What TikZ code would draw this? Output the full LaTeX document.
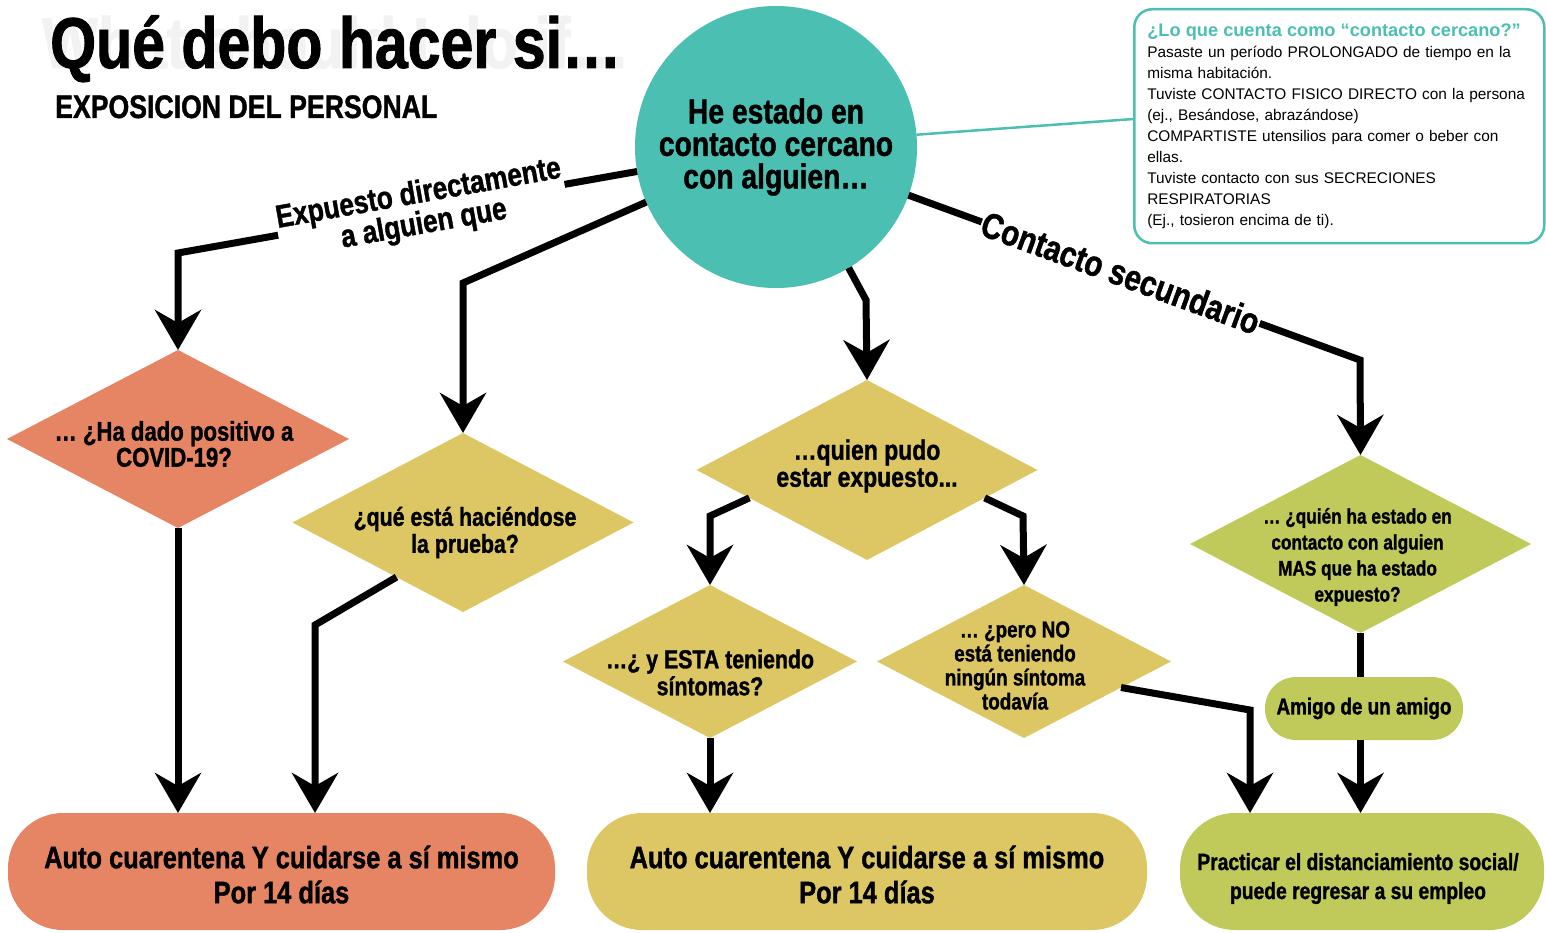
\documentclass[tikz,border=0pt]{standalone}
\usepackage{fontspec}
\newfontfamily\cnd[FakeStretch=0.82, FakeBold=1.2]{Liberation Sans}
\newfontfamily\hel{Liberation Sans}
\usetikzlibrary{shapes.geometric,arrows.meta,calc}
\definecolor{tealc}{HTML}{4BBFB1}
\definecolor{orangec}{HTML}{E68564}
\definecolor{yellowc}{HTML}{DDC765}
\definecolor{greenc}{HTML}{BFCA5A}
\tikzset{
  conn/.style={line width=7pt, draw=black},
  arr/.style={conn, -{Stealth[length=40pt,width=46pt,inset=13pt]}},
  dia/.style={diamond, inner sep=0pt, outer sep=0pt},
  dtext/.style={font=\cnd\bfseries\fontsize{26}{27}\selectfont, align=center, text=black, inner sep=0pt},
  pill/.style={rectangle, rounded corners=55pt, inner sep=0pt, outer sep=0pt, align=center},
  lbl/.style={font=\cnd\bfseries\fontsize{32}{27}\selectfont, align=center, fill=white, inner sep=1pt, sloped},
}
\begin{document}
\begin{tikzpicture}[x=1pt,y=-1pt]
\useasboundingbox (0,0) rectangle (1546,933);
\fill[white] (0,0) rectangle (1546,933);

% titles
\node[anchor=base west, inner sep=0pt, text=black!5, font=\cnd\bfseries\fontsize{72}{72}\selectfont] (bgtitle) at (42,68) {What should I do if…};
\node[anchor=base west, inner sep=0pt, font=\cnd\bfseries\fontsize{72}{72}\selectfont] (title) at (50,68) {Qué debo hacer si…};
\node[anchor=base west, inner sep=0pt, font=\cnd\bfseries\fontsize{32.5}{32}\selectfont] (sub) at (55,118) {EXPOSICION DEL PERSONAL};

% central circle
\node[circle, fill=tealc, minimum size=282pt, inner sep=0pt, outer sep=0pt, align=center,
  font=\cnd\bfseries\fontsize{34.5}{32.5}\selectfont] (circ) at (776,147) {He estado en\\contacto cercano\\con alguien…};

% info box
\node[anchor=north west, draw=tealc, line width=2.5pt, rounded corners=18pt, fill=white,
  minimum width=410pt, minimum height=234pt, text width=384pt, align=left, inner sep=0pt,
  font=\hel\fontsize{15.4}{20.9}\selectfont] (info) at (1133,8)
  {{\color{tealc}\bfseries\fontsize{18.2}{20.9}\selectfont ¿Lo que cuenta como “contacto cercano?”}\\
   Pasaste un período PROLONGADO de tiempo en la\\
   misma habitación.\\
   Tuviste CONTACTO FISICO DIRECTO con la persona\\
   (ej., Besándose, abrazándose)\\
   COMPARTISTE utensilios para comer o beber con\\
   ellas.\\
   Tuviste contacto con sus SECRECIONES\\
   RESPIRATORIAS\\
   (Ej., tosieron encima de ti).};
\draw[tealc, line width=2.5pt] (circ.5) -- (info.178);

% diamonds
\node[dia, fill=orangec, minimum width=342pt, minimum height=178pt] (d1) at (178,439) {};
\node[dia, fill=yellowc, minimum width=341pt, minimum height=179pt] (d2) at (463,522.5) {};
\node[dia, fill=yellowc, minimum width=341pt, minimum height=180pt] (d3) at (867,470) {};
\node[dia, fill=yellowc, minimum width=294pt, minimum height=153pt] (d4a) at (710,661.5) {};
\node[dia, fill=yellowc, minimum width=294pt, minimum height=153pt] (d4b) at (1024,661.5) {};
\node[dia, fill=greenc, minimum width=341pt, minimum height=178pt] (d5) at (1360.5,544) {};

\node[dtext, font=\cnd\bfseries\fontsize{27}{26}\selectfont] (d1t) at ($(d1)+(-4,5)$) {… ¿Ha dado positivo a\\COVID-19?};
\node[dtext] (d2t) at ($(d2)+(2,10)$) {¿qué está haciéndose\\la prueba?};
\node[dtext, font=\cnd\bfseries\fontsize{28}{27}\selectfont] (d3t) at ($(d3)+(0,-4)$) {…quien pudo\\estar expuesto...};
\node[dtext] (d4at) at ($(d4a)+(0,11)$) {…¿ y ESTA teniendo\\síntomas?};
\node[dtext, font=\cnd\bfseries\fontsize{23}{24}\selectfont] (d4bt) at ($(d4b)+(-9,4)$) {… ¿pero NO\\está teniendo\\ningún síntoma\\todavía};
\node[dtext, font=\cnd\bfseries\fontsize{21}{26}\selectfont] (d5t) at ($(d5)+(-3,13)$) {… ¿quién ha estado en\\contacto con alguien\\MAS que ha estado\\expuesto?};

% pills
\node[pill, fill=greenc, minimum width=198pt, minimum height=63pt, rounded corners=31pt,
  font=\cnd\bfseries\fontsize{23}{26}\selectfont] (amigo) at (1364,708.5) {Amigo de un amigo};
\node[pill, fill=orangec, minimum width=547pt, minimum height=117pt] (o1) at (281.5,871.5) {};
\node[pill, fill=yellowc, minimum width=560pt, minimum height=117pt] (y1) at (867,871.5) {};
\node[pill, fill=greenc, minimum width=364pt, minimum height=117pt] (g1) at (1362,871.5) {};
\node[dtext, font=\cnd\bfseries\fontsize{31}{35}\selectfont] (o1t) at ($(o1)+(0,3)$) {Auto cuarentena Y cuidarse a sí mismo\\Por 14 días};
\node[dtext, font=\cnd\bfseries\fontsize{31}{35}\selectfont] (y1t) at ($(y1)+(0,3)$) {Auto cuarentena Y cuidarse a sí mismo\\Por 14 días};
\node[dtext, font=\cnd\bfseries\fontsize{23.5}{29}\selectfont] (g1t) at ($(g1)+(-4,7)$) {Practicar el distanciamiento social/\\puede regresar a su empleo};

% bend points
\coordinate (c1) at (178,253);
\coordinate (c2a) at (463,283);
\coordinate (c3) at (866,300);
\coordinate (c4) at (1360,360);
\coordinate (c2) at (315,625);
\coordinate (c3l) at (710,516);
\coordinate (c3r) at (1023,516);
\coordinate (c5) at (1250,710);

% connectors from circle
\draw[arr] (circ.190) -- node[lbl, pos=0.47] {Expuesto directamente\\a alguien que} (c1) -- (d1.north);
\draw[arr] (circ.203) -- (c2a) -- (d2.north);
\draw[arr] (circ.-59) -- (c3) -- (d3.north);
\draw[arr] (circ.-20) -- node[lbl, pos=0.47, font=\cnd\bfseries\fontsize{36}{36}\selectfont] {Contacto secundario} (c4) -- (d5.north);

% lower connectors
\draw[arr] (d1.south) -- (d1.south |- o1.north);
\draw[arr] ($(d2.west)!0.61!(d2.south)$) -- (c2) -- (c2 |- o1.north);
\draw[arr] ($(d3.west)!0.31!(d3.south)$) -- (c3l) -- (d4a.north);
\draw[arr] ($(d3.east)!0.31!(d3.south)$) -- (c3r) -- (d4b.north);
\draw[arr] (d4a.south) -- (d4a.south |- y1.north);
\draw[arr] ($(d4b.east)!0.34!(d4b.south)$) -- (c5) -- (c5 |- g1.north);
\draw[conn] (d5.south) -- (d5.south |- amigo.north);
\draw[arr] (d5.south |- amigo.south) -- (d5.south |- g1.north);
\end{tikzpicture}
\end{document}
